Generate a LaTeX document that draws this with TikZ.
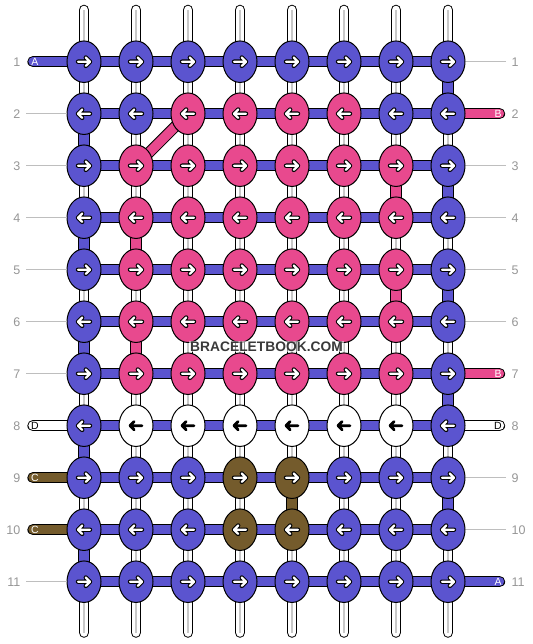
\documentclass[tikz,border=0pt]{standalone}
\usepackage{fontspec}
\setmainfont{Liberation Sans}
\usetikzlibrary{shapes.geometric}
\definecolor{cA}{RGB}{91,84,207}
\definecolor{cB}{RGB}{232,73,142}
\definecolor{cC}{RGB}{116,91,44}
\definecolor{cD}{RGB}{255,255,255}
\definecolor{numgray}{RGB}{150,150,150}
\definecolor{guidegray}{RGB}{190,190,190}
\definecolor{midgray}{RGB}{200,200,200}
\definecolor{wmark}{RGB}{58,58,58}
\pgfdeclarelayer{strings}
\pgfdeclarelayer{cords}
\pgfsetlayers{strings,cords,main}
\begin{document}
\begin{tikzpicture}[x=1pt,y=-1pt,
  knot/.style={ellipse, draw=black, line width=1pt, minimum width=34pt, minimum height=41.5pt, inner sep=0pt},
  basestr/.style={draw=black, line width=1pt, double=white, double distance=8.6pt, line cap=round},
  midline/.style={draw=midgray, line width=1.5pt},
  cord/.style={draw=black, line width=1pt, double=#1, double distance=9.3pt},
  tail/.style={draw=black, line width=1pt, double=#1, double distance=9.3pt, line cap=round},
  guide/.style={draw=guidegray, line width=1pt},
  numL/.style={anchor=east, text=numgray, inner sep=0pt, font=\fontsize{12.5}{14}\selectfont},
  numR/.style={anchor=west, text=numgray, inner sep=0pt, font=\fontsize{12.5}{14}\selectfont},
  tlab/.style={inner sep=0pt, font=\fontsize{10.5}{12}\selectfont},
  arrout/.style={draw=black, line width=4.4pt, line cap=round, line join=round},
  arrin/.style={draw=white, line width=2.3pt, line cap=round, line join=round},
  arrblk/.style={draw=black, line width=2.8pt, line cap=round, line join=round}
]
\useasboundingbox (0,0) rectangle (532,644);

% knots
\foreach \r/\lst in {
  1/{cA,cA,cA,cA,cA,cA,cA,cA},
  2/{cA,cA,cB,cB,cB,cB,cA,cA},
  3/{cA,cB,cB,cB,cB,cB,cB,cA},
  4/{cA,cB,cB,cB,cB,cB,cB,cA},
  5/{cA,cB,cB,cB,cB,cB,cB,cA},
  6/{cA,cB,cB,cB,cB,cB,cB,cA},
  7/{cA,cB,cB,cB,cB,cB,cB,cA},
  8/{cA,cD,cD,cD,cD,cD,cD,cA},
  9/{cA,cA,cA,cC,cC,cA,cA,cA},
  10/{cA,cA,cA,cC,cC,cA,cA,cA},
  11/{cA,cA,cA,cA,cA,cA,cA,cA}}{
  \foreach \col [count=\c] in \lst {
    \node[knot, fill=\col] (k-\r-\c) at ({84+52*(\c-1)}, {61.7+52*(\r-1)}) {};
  }
}

% base strings
\foreach \c in {1,...,8}{
  \coordinate (st-\c) at ({84+52*(\c-1)}, 10);
  \coordinate (sb-\c) at ({84+52*(\c-1)}, 632.5);
  \begin{pgfonlayer}{strings}
    \draw[basestr] (st-\c) -- (sb-\c);
    \draw[midline] (st-\c) -- (sb-\c);
  \end{pgfonlayer}
}

\begin{pgfonlayer}{cords}
  % horizontal working cords
  \foreach \r in {1,...,11}{
    \draw[cord=cA] (k-\r-1.center) -- (k-\r-8.center);
  }
  % turns at the edges
  \foreach \r [evaluate=\r as \n using int(\r+1)] in {2,4,6,8,10}{
    \draw[cord=cA] (k-\r-1.center) -- (k-\n-1.center);
  }
  \foreach \r [evaluate=\r as \n using int(\r+1)] in {1,3,5,7,9}{
    \draw[cord=cA] (k-\r-8.center) -- (k-\n-8.center);
  }
  % coloured base segments
  \draw[cord=cB] (k-4-2.center) -- (k-5-2.center);
  \draw[cord=cB] (k-6-2.center) -- (k-7-2.center);
  \draw[cord=cB] (k-3-7.center) -- (k-4-7.center);
  \draw[cord=cB] (k-5-7.center) -- (k-6-7.center);
  \draw[cord=cC] (k-9-5.center) -- (k-10-5.center);
  \draw[cord=cB] (k-2-3.center) -- (k-3-2.center);
  % tails
  \foreach \r/\col in {1/cA, 8/cD, 9/cC, 10/cC}{
    \coordinate (tl-\r) at (33, {61.7+52*(\r-1)});
    \draw[tail=\col] (tl-\r) -- (k-\r-1.center);
  }
  \foreach \r/\col in {2/cB, 7/cB, 8/cD, 11/cA}{
    \coordinate (tr-\r) at (499.5, {61.7+52*(\r-1)});
    \draw[tail=\col] (tr-\r) -- (k-\r-8.center);
  }
\end{pgfonlayer}

% tail labels
\foreach \r/\lab/\tc in {1/A/white, 8/D/black, 9/C/white, 10/C/white}{
  \node[tlab, text=\tc] (tll-\r) at (35, {62+52*(\r-1)}) {\lab};
}
\foreach \r/\lab/\tc in {2/B/white, 7/B/white, 8/D/black, 11/A/white}{
  \node[tlab, text=\tc] (trl-\r) at (498, {62+52*(\r-1)}) {\lab};
}

% guide lines
\foreach \r in {2,3,4,5,6,7,11}{
  \coordinate (gl-\r) at (26, {61.7+52*(\r-1)});
  \draw[guide] (gl-\r) -- (k-\r-1);
}
\foreach \r in {1,3,4,5,6,9,10}{
  \coordinate (gr-\r) at (506, {61.7+52*(\r-1)});
  \draw[guide] (gr-\r) -- (k-\r-8);
}

% row numbers
\foreach \r in {1,...,11}{
  \node[numL] (nl-\r) at (20.5, {62.5+52*(\r-1)}) {\r};
  \node[numR] (nr-\r) at (511.5, {62.5+52*(\r-1)}) {\r};
}

% arrows
\foreach \r in {1,...,11}{
  \pgfmathtruncatemacro{\d}{mod(\r,2)==1 ? 1 : -1}
  \foreach \c in {1,...,8}{
    \pgfmathtruncatemacro{\wk}{(\r==8 && \c>1 && \c<8) ? 1 : 0}
    \ifnum\wk=1
      \draw[arrblk] ([xshift={-6*\d}]k-\r-\c.center) -- ([xshift={6*\d}]k-\r-\c.center)
        ([shift={(1.8*\d,-4.2)}]k-\r-\c.center) -- ([xshift={6*\d}]k-\r-\c.center) -- ([shift={(1.8*\d,4.2)}]k-\r-\c.center);
    \else
      \draw[arrout] ([xshift={-6*\d}]k-\r-\c.center) -- ([xshift={6*\d}]k-\r-\c.center)
        ([shift={(1.8*\d,-4.2)}]k-\r-\c.center) -- ([xshift={6*\d}]k-\r-\c.center) -- ([shift={(1.8*\d,4.2)}]k-\r-\c.center);
      \draw[arrin] ([xshift={-6*\d}]k-\r-\c.center) -- ([xshift={6*\d}]k-\r-\c.center)
        ([shift={(1.8*\d,-4.2)}]k-\r-\c.center) -- ([xshift={6*\d}]k-\r-\c.center) -- ([shift={(1.8*\d,4.2)}]k-\r-\c.center);
    \fi
  }
}

% watermark
\node[fill=white, fill opacity=0.55, text opacity=1, text=wmark, inner sep=1pt,
  font=\bfseries\fontsize{13.8}{15}\selectfont] (wm) at (266.5, 346.5) {BRACELETBOOK.COM};
\end{tikzpicture}
\end{document}
